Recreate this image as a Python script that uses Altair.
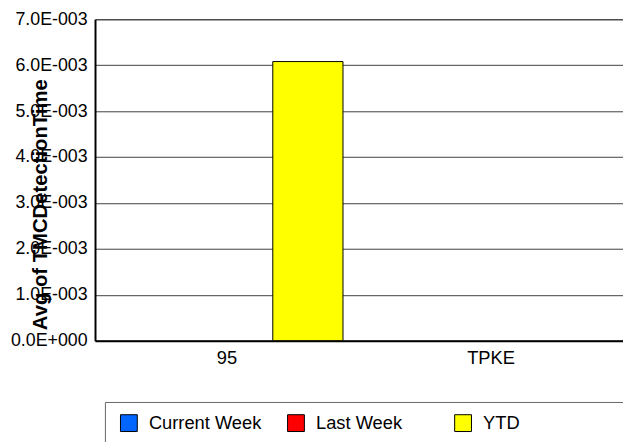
import altair as alt
import pandas as pd

categories = ["95", "TPKE"]
series = ["Current Week", "Last Week", "YTD"]
colors = ["#0066FF", "#FF0000", "#FFFF00"]
values_95 = [None, None, 0.00608]
values_tpke = [None, None, None]
y_ticks = [0, 0.001, 0.002, 0.003, 0.004, 0.005, 0.006, 0.007]
y_tick_labels = ["0.0E+000", "1.0E-003", "2.0E-003", "3.0E-003",
                 "4.0E-003", "5.0E-003", "6.0E-003", "7.0E-003"]

rows = []
for cat, vals in zip(categories, [values_95, values_tpke]):
    for s, v in zip(series, vals):
        rows.append({"category": cat, "series": s, "value": v})
df = pd.DataFrame(rows)

label_array = "[" + ",".join("'" + t + "'" for t in y_tick_labels) + "]"
label_expr = label_array + "[round(datum.value * 1000)]"

FONT = "Liberation Sans"

chart = alt.Chart(df).mark_bar(stroke="#000000", strokeWidth=1).encode(
    x=alt.X("category:N",
            scale=alt.Scale(domain=categories, paddingInner=0, paddingOuter=0),
            axis=alt.Axis(title=None, labelAngle=0, labelFontSize=18.5, labelFont=FONT,
                          labelColor="#000000", labelPadding=8, ticks=False,
                          domainColor="#000000", domainWidth=2, grid=False)),
    xOffset=alt.XOffset("series:N",
                        scale=alt.Scale(domain=series, paddingInner=0,
                                        paddingOuter=0.38, align=0.70)),
    y=alt.Y("value:Q",
            scale=alt.Scale(domain=[0, 0.007], nice=False, zero=True),
            axis=alt.Axis(title="Avg of TMCDetectionTime", values=y_ticks,
                          labelExpr=label_expr, labelFontSize=18, labelFont=FONT,
                          labelColor="#000000", labelPadding=8, ticks=False,
                          domainColor="#000000", domainWidth=2,
                          grid=True,
                          gridColor=alt.condition("datum.value >= 0.007",
                                                  alt.value("#000000"),
                                                  alt.value("#404040")),
                          gridWidth=1,
                          titleFont=FONT, titleFontSize=20.5, titleFontWeight="bold",
                          titleColor="#000000", titleAngle=270, titleAlign="center",
                          titleBaseline="alphabetic", titleX=-49, titleY=187)),
    color=alt.Color("series:N",
                    scale=alt.Scale(domain=series, range=colors),
                    legend=alt.Legend(title=" ", titleOrient="right", titlePadding=93,
                                      orient="none", legendX=10, legendY=387,
                                      direction="horizontal", columns=3, gridAlign="all",
                                      columnPadding=22, padding=12, symbolOffset=3,
                                      strokeColor="#666666",
                                      symbolType="square", symbolSize=289,
                                      symbolStrokeColor="#000000", symbolStrokeWidth=1,
                                      labelFont=FONT, labelFontSize=18.5,
                                      labelColor="#000000", labelOffset=11,
                                      labelLimit=400)),
).properties(
    width=534,
    height=325,
    padding={"left": 88, "top": 9, "right": 0, "bottom": 100},
    autosize=alt.AutoSizeParams(type="none"),
).configure_view(stroke=None).configure(background="#FFFFFF")

chart.save("out.html", embed_options={"renderer": "svg", "actions": False})
